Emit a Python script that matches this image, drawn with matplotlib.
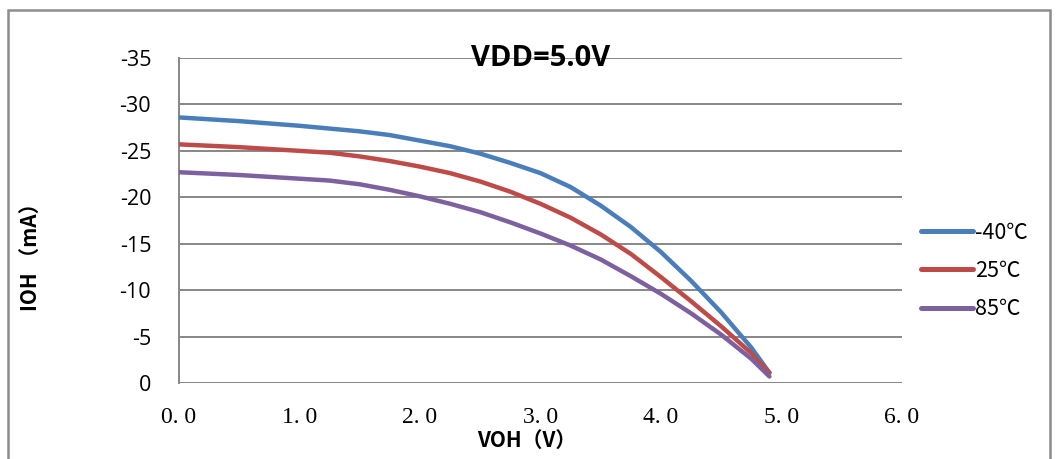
import matplotlib.pyplot as plt
from matplotlib.patches import Rectangle
from matplotlib.ticker import FixedLocator

plt.rcParams['axes.unicode_minus'] = False

# VOH (V) and IOH (mA)
voh = [0.0, 0.5, 1.0, 1.25, 1.5, 1.75, 2.0, 2.25, 2.5, 2.75, 3.0, 3.25, 3.5, 3.75,
       4.0, 4.25, 4.5, 4.75, 4.9]
ioh_m40 = [-28.6, -28.2, -27.7, -27.4, -27.1, -26.7, -26.1, -25.5, -24.7, -23.7, -22.6,
           -21.1, -19.1, -16.8, -14.1, -11.0, -7.6, -3.8, -1.1]
ioh_25 = [-25.7, -25.4, -25.0, -24.8, -24.4, -23.9, -23.3, -22.6, -21.7, -20.6, -19.3,
          -17.8, -16.0, -13.9, -11.4, -8.8, -6.1, -3.2, -1.1]
ioh_85 = [-22.7, -22.4, -22.0, -21.8, -21.4, -20.8, -20.1, -19.3, -18.4, -17.3, -16.1,
          -14.8, -13.3, -11.5, -9.6, -7.5, -5.2, -2.6, -0.7]
labels = ['-40℃', '25℃', '85℃']
colors = ['#4A7EBB', '#BE4B48', '#7D60A0']

xticks = [0, 1, 2, 3, 4, 5, 6]
xticklabels = ['0. 0', '1. 0', '2. 0', '3. 0', '4. 0', '5. 0', '6. 0']
yticks = [0, -5, -10, -15, -20, -25, -30, -35]

fig = plt.figure(figsize=(10.59, 4.59), dpi=100)
ax = fig.add_axes([179/1059, 1 - 383/459, 723/1059, 325/459])

for ys, lab, c in zip([ioh_m40, ioh_25, ioh_85], labels, colors):
    ax.plot(voh, ys, color=c, lw=3.2, label=lab, solid_capstyle='round',
            solid_joinstyle='round', zorder=3)

ax.set_xlim(0, 6)
ax.set_ylim(0, -35)
ax.yaxis.set_major_locator(FixedLocator(yticks))
ax.set_yticklabels([str(v) for v in yticks], family=['Open Sans', 'DejaVu Sans'], fontsize=15.5)
ax.set_xticks(xticks)
ax.set_xticklabels(xticklabels, family=['Liberation Serif'], fontsize=17)
ax.tick_params(length=0)
ax.tick_params(axis='y', pad=20)
ax.tick_params(axis='x', pad=17)
ax.grid(axis='y', color='#878787', lw=1.4)
ax.set_axisbelow(True)
for s in ['top', 'right', 'bottom']:
    ax.spines[s].set_visible(False)
ax.spines['left'].set_color('#878787')
ax.spines['left'].set_linewidth(1.4)

ax.text(0.5, 1.0, 'VDD=5.0V', transform=ax.transAxes, ha='center', va='center',
        fontsize=21, fontweight='bold', family=['Open Sans', 'DejaVu Sans'])

cjk = ['Noto Sans CJK SC', 'DejaVu Sans']
fig.text(30/1059, 1 - 252/459, 'IOH （mA）', rotation=90, ha='center', va='center',
         fontsize=15, fontweight='bold', family=cjk)
fig.text(527/1059, 1 - 440/459, 'VOH（V）', ha='center', va='center',
         fontsize=15, fontweight='bold', family=cjk)

leg = fig.legend(loc='center left', bbox_to_anchor=(902/1059, 1 - 271/459), frameon=False,
                 handlelength=2.4, handletextpad=0.1, labelspacing=0.75,
                 prop={'family': ['Noto Sans CJK SC', 'DejaVu Sans'], 'size': 15.5})
for line in leg.get_lines():
    line.set_linewidth(3.6)
    line.set_solid_capstyle('round')

fig.patches.append(Rectangle((8/1059, -0.1), 1042/1059, 1.1 - 10/459, transform=fig.transFigure,
                             fill=False, edgecolor='#8c8c8c', lw=1.8))

fig.savefig('out.png', dpi=100)
